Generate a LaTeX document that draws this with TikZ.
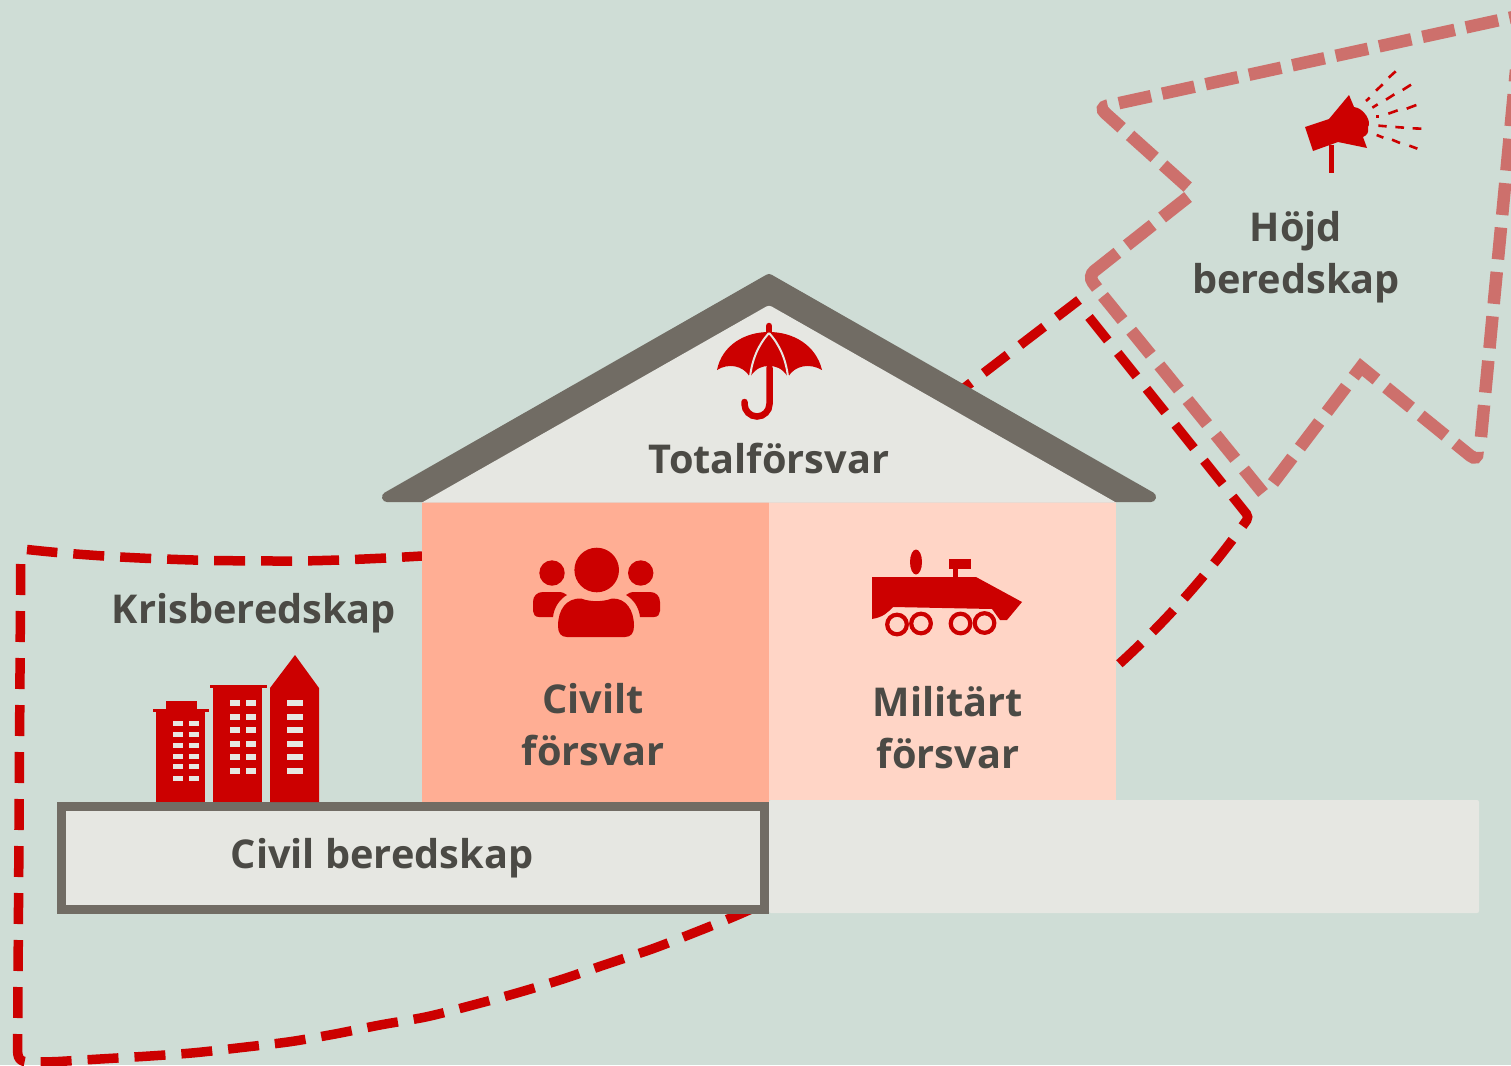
\documentclass[tikz,border=0pt]{standalone}
\usepackage{fontspec}
\setmainfont{Open Sans}
\definecolor{bgc}{HTML}{CFDDD6}
\definecolor{lightc}{HTML}{E6E7E2}
\definecolor{roofc}{HTML}{716C64}
\definecolor{paneA}{HTML}{FFAE94}
\definecolor{paneB}{HTML}{FFD5C6}
\definecolor{redc}{HTML}{CC0000}
\definecolor{pinkc}{HTML}{CD706C}
\definecolor{textc}{HTML}{4B4A45}
\tikzset{
  x=1pt,y=-1pt,
  lbl/.style={text=textc,font=\fontsize{39.7}{52}\selectfont\bfseries,align=center,inner sep=0pt},
  reddash/.style={draw=redc,line width=9.5pt,dash pattern=on 31pt off 16pt},
  pinkdash/.style={draw=pinkc,line width=12.5pt,dash pattern=on 33pt off 11.4pt},
  ico/.style={fill=redc,draw=none},
  win/.style={fill=lightc,draw=none},
  ray/.style={draw=redc,line width=2.6pt},
}
\begin{document}
\begin{tikzpicture}
\clip (0,0) rectangle (1511,1065);
\fill[bgc] (0,0) rectangle (1511,1065);
% pink outline
\draw[pinkdash,dash phase=22pt,rounded corners=8pt,line join=miter] (1520,15.6) -- (1099,107.5) -- (1192,191);
\draw[pinkdash,dash pattern=on 33pt off 12pt on 33pt off 12pt on 50pt off 100pt,rounded corners=8pt] (1188,197) -- (1088,276) -- (1097,288);
\draw[pinkdash,dash pattern=on 31pt off 13.7pt] (1103,296) -- (1263,493);
\draw[pinkdash,dash pattern=on 32pt off 12.5pt on 32pt off 12.5pt on 32pt off 12.5pt on 32pt off 12.5pt on 32pt off 12.5pt on 32pt off 12.5pt on 100pt off 10pt,line join=miter]
  (1273,483) -- (1361,367) [rounded corners=10pt] -- (1478,462) -- (1477.5,452);
\draw[pinkdash,dash pattern=on 32pt off 12.6pt] (1481,437) -- (1516,70);
% red outline, left part
\draw[reddash,dash phase=11pt] plot[smooth] coordinates {(422,556) (386,558) (339,560) (292,561) (214,560.5) (151,558.5) (104,556) (57,552.5) (27,549.5)};
\draw[reddash] (20.7,564) -- (17.6,1048) .. controls (17.4,1058) and (19,1062) .. (30,1062)
  -- plot[smooth] coordinates {(55,1061.7) (100,1059) (150,1056) (195,1052.7) (240,1047.7) (290,1041.7) (335,1034) (380,1025) (427,1016.7) (473,1005) (518,992.7) (563,979) (607,964) (652,949) (696,932) (733,917) (765,903)};
% red outline, right part
\draw[reddash,dash pattern=on 30pt off 16pt on 30pt off 16pt on 30pt off 16pt on 30pt off 16pt on 30pt off 16pt on 36pt off 17pt on 30pt off 16pt on 30pt off 16pt on 30pt off 16pt on 30pt off 16pt,rounded corners=4pt]
  (1089,317) -- (1249,517) .. controls (1215,565) and (1170,618) .. (1118,665);
\draw[reddash,dash phase=2pt,dash pattern=on 30pt off 16pt] (1079,300) -- (958,392.7);
% ground
\fill[lightc,rounded corners=2pt] (769,800) rectangle (1479,913);
% house
\fill[paneA] (422,502) rectangle (769,802);
\fill[paneB] (769,502) rectangle (1116,800);
\draw[roofc,fill=roofc,line width=10pt,line join=round] (769,279) -- (1151,497) -- (387,497) -- cycle;
\fill[lightc] (422,502.5) [rounded corners=3pt] -- (769,305) [sharp corners] -- (1116,502.5) -- cycle;
% civil frame
\draw[roofc,line width=9pt,fill=lightc] (61.5,806.5) rectangle (764.5,909.5);
% umbrella
\draw[redc,line width=6.5pt,line cap=round] (769,326) -- (769,334);
\path[ico] (717,370) .. controls (722,345) and (745,332) .. (769,332) .. controls (793,332) and (816,345) .. (822,370) .. controls (810,363) and (795,365) .. (788,377) .. controls (782,368) and (776,366) .. (769,366) .. controls (762,366) and (756,368) .. (750,377) .. controls (743,365) and (728,363) .. (717,370) -- cycle;
\draw[lightc,line width=2pt] (769,333) .. controls (758,345) and (752,360) .. (750,377);
\draw[lightc,line width=2pt] (769,333) .. controls (780,345) and (786,360) .. (788,377);
\draw[redc,line width=6.5pt,line cap=round] (769.5,368) -- (769.5,404) arc[start angle=0,end angle=180,radius=12.5] -- +(0,-2);
% megaphone
\path[ico] (1305,127) -- (1329,119) -- (1349,95) -- (1354,107) .. controls (1364,108) and (1372,122) .. (1368,127) .. controls (1369,133) and (1367,135) .. (1363,137) -- (1367,148) -- (1338,142) -- (1313,151) -- cycle;
\fill[redc] (1328.5,145) rectangle (1333.5,173);
\foreach \a/\b/\c/\d in {326/83/347/64,288/122/308/103,368/120/393/104,258/153/269/143,318/149/343/133,277/173/293/163,325/191/353/181,380/176/409/165,289/200/296/200,295/227/320/229,346/231/372/233,398/235/424/236,290/255/310/263,336/269/360/279,388/287/412/296}
  \draw[ray] ({1280+\a/3},{50+\b/3}) -- ({1280+\c/3},{50+\d/3});
% people
\fill[redc] (596.7,570) circle[radius=22.3];
\fill[redc] (552,573) circle[radius=12.7];
\fill[redc] (640.7,573) circle[radius=12.7];
\path[ico] (558,626) .. controls (558,610) and (566,598) .. (581,598.5) .. controls (590,602) and (603,602) .. (612,598.5) .. controls (626,598) and (634,610) .. (634,626) .. controls (634,633) and (631,637) .. (625,637) -- (567,637) .. controls (561,637) and (558,633) .. (558,626) -- cycle;
\path[ico] (533,602) .. controls (533,596) and (537,592) .. (543,592) -- (558,592) .. controls (562,592) and (565,593) .. (567,595) .. controls (560,599) and (554,607) .. (553,617) -- (539,617) .. controls (535,617) and (533,614) .. (533,611) -- cycle;
\path[ico] (660,602) .. controls (660,596) and (656,592) .. (650,592) -- (635,592) .. controls (631,592) and (628,593) .. (626,595) .. controls (633,599) and (639,607) .. (640,617) -- (654,617) .. controls (658,617) and (660,614) .. (660,611) -- cycle;
% vehicle
\path[ico] (872,577) -- (976,577) -- (1022,602) -- (1007,620) -- (1000,620) -- (992,609) -- (893,607) .. controls (888,612) and (884,617) .. (872,619) -- cycle;
\fill[redc] (916,562) ellipse[x radius=6,y radius=12.5];
\fill[redc] (949,559) rectangle (971,569);
\fill[redc] (953,569) rectangle (958,578);
\draw[redc,line width=4.2pt] (897,624.5) circle[radius=9.8];
\draw[redc,line width=4.2pt] (921,623.5) circle[radius=9.8];
\draw[redc,line width=4.2pt] (960.5,623.5) circle[radius=9.8];
\draw[redc,line width=4.2pt] (984.5,623) circle[radius=9.8];
% buildings
\fill[redc] (156,711) rectangle (205,802);
\fill[redc] (153,709) rectangle (209,712);
\fill[redc] (166,701) rectangle (197,710);
\fill[redc] (213,687) rectangle (262,802);
\fill[redc] (210,685) rectangle (267,688);
\path[ico] (270,688) -- (295,655) -- (319,688) -- (319,802) -- (270,802) -- cycle;
\foreach \y in {723.7,734.7,745,756,766.7,778} {
  \fill[win] (173,\y-2.5) rectangle (183,\y+2.5);
  \fill[win] (189,\y-2.5) rectangle (199,\y+2.5);
}
\foreach \y in {702.7,716.7,729.7,744,757.3,771.3} {
  \fill[win] (230,\y-3) rectangle (240,\y+3);
  \fill[win] (246,\y-3) rectangle (256,\y+3);
  \fill[win] (287,\y-3) rectangle (303,\y+3);
}
% labels
\node[lbl] (total) at (769,458) {Totalförsvar};
\node[lbl] (kris) at (254,613) {Krisberedskap};
\node[lbl] (civilt) at (593,724.5) {Civilt\\försvar};
\node[lbl] (milit) at (948,728) {Militärt\\försvar};
\node[lbl] (civil) at (382,858) {Civil beredskap};
\node[lbl] (hojd) at (1296,257) {Höjd\\beredskap};
\end{tikzpicture}
\end{document}
